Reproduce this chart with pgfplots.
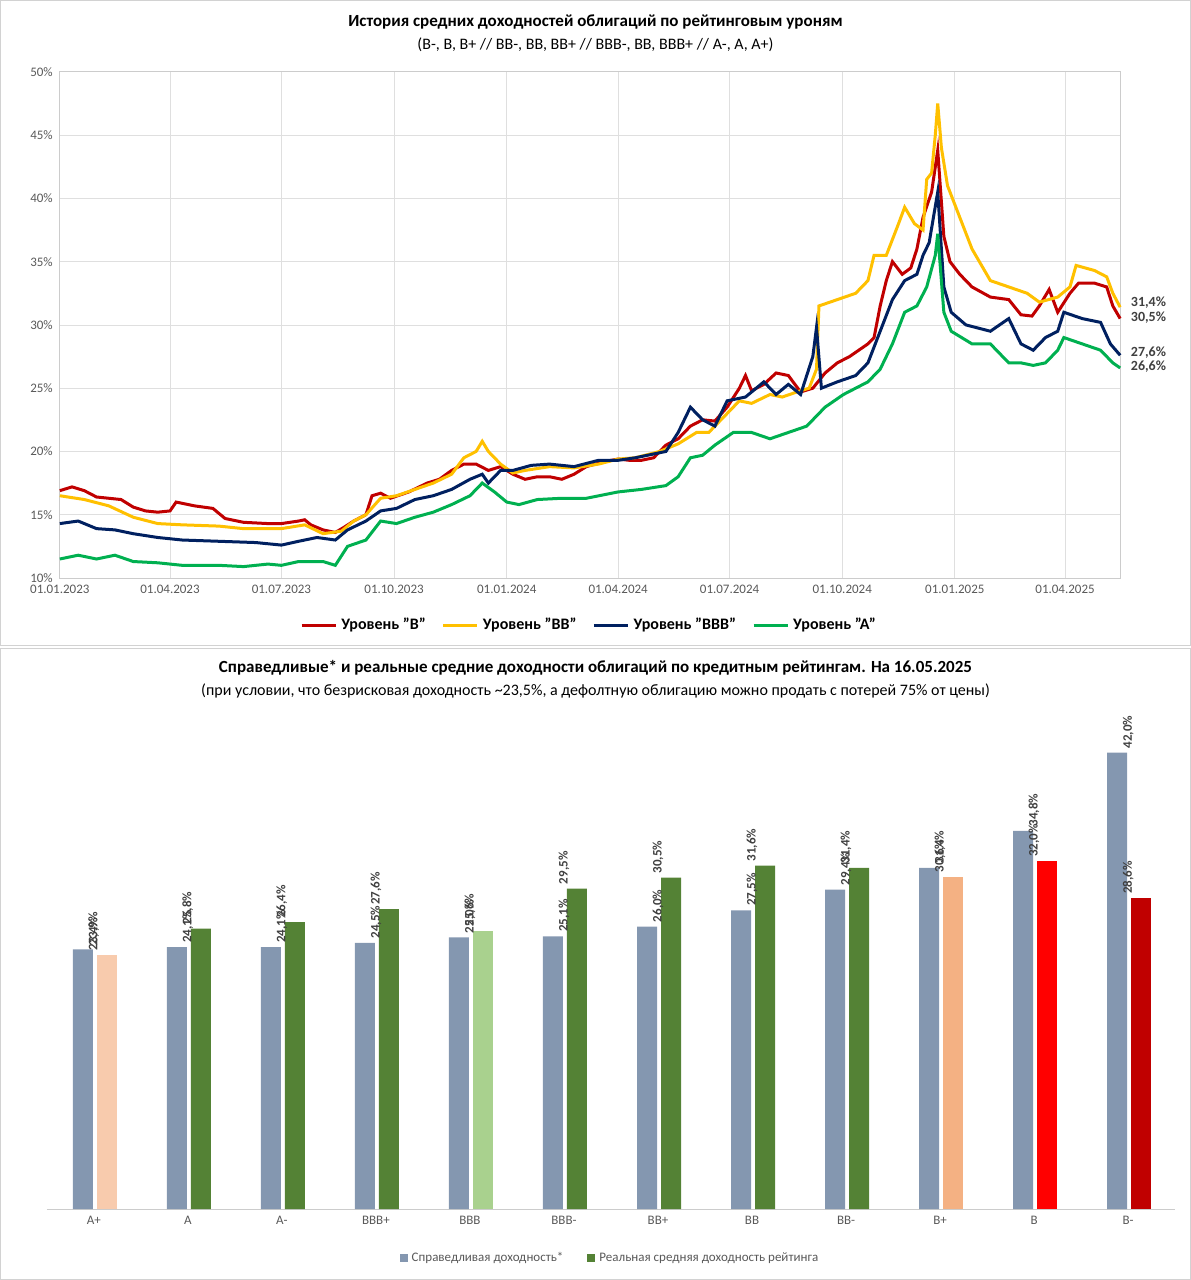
\documentclass[border=0pt]{standalone}
\usepackage{pgfplots}
\pgfplotsset{compat=1.18}
\usepackage{fontspec}
\setmainfont{Carlito}
\definecolor{cB}{HTML}{C00000}
\definecolor{cBB}{HTML}{FFC000}
\definecolor{cBBB}{HTML}{002060}
\definecolor{cA}{HTML}{00B050}
\definecolor{gb}{HTML}{8497B0}
\definecolor{gg}{HTML}{548235}
\definecolor{lg}{HTML}{A9D18E}
\definecolor{pe}{HTML}{F8CBAD}
\definecolor{or}{HTML}{F4B183}
\definecolor{rr}{HTML}{FF0000}
\definecolor{txt}{HTML}{595959}
\definecolor{lbl}{HTML}{404040}
\begin{document}
\begin{tikzpicture}
\draw[gray!35] (0.3pt,-0.3pt) rectangle (595.2pt,-322.5pt);
\draw[gray!35] (0.3pt,-324pt) rectangle (595.2pt,-639.7pt);
\node[font=\fontsize{8.5}{10}\selectfont\bfseries] at (297.75pt,-11pt) {История средних доходностей облигаций по рейтинговым уроням};
\node[font=\fontsize{8}{10}\selectfont] at (297.75pt,-22.5pt) {(B-, B, B+ // BB-, BB, BB+ // BBB-, BB, BBB+ // A-, A, A+)};
\node[font=\fontsize{8.5}{10}\selectfont\bfseries] at (297.75pt,-334pt) {Справедливые* и реальные средние доходности облигаций по кредитным рейтингам. На 16.05.2025};
\node[font=\fontsize{8}{10}\selectfont] at (297.75pt,-345.5pt) {(при условии, что безрисковая доходность \textasciitilde23,5\%, а дефолтную облигацию можно продать с потерей 75\% от цены)};
\begin{axis}[at={(30pt,-289pt)},anchor=south west,scale only axis,width=530pt,height=253pt,
 xmin=0,xmax=866,ymin=10,ymax=50,
 xtick={0,90,181,273,365,456,547,639,731,821},
 xticklabels={01.01.2023,01.04.2023,01.07.2023,01.10.2023,01.01.2024,01.04.2024,01.07.2024,01.10.2024,01.01.2025,01.04.2025},
 ytick={10,15,...,50},yticklabel={\pgfmathprintnumber{\tick}\%},
 /pgf/number format/assume math mode=true,
 grid=major,grid style={gray!25},axis line style={gray!40},tick style={draw=none},
 ticklabel style={font=\fontsize{6.5}{8}\selectfont,text=txt},
 clip=false,
 legend style={at={(0.5,-0.093)},anchor=center,draw=none,legend columns=4,font=\fontsize{8}{10}\selectfont\bfseries,/tikz/every even column/.append style={column sep=6pt}},
 every axis plot/.append style={line width=1.5pt}]
\addplot[cB] coordinates {(0,16.9)(10,17.2)(20,16.9)(30,16.4)(40,16.3)(50,16.2)(60,15.6)(70,15.3)(80,15.2)(90,15.3)(95,16.0)(110,15.7)(125,15.5)(135,14.7)(150,14.4)(170,14.3)(181,14.3)(195,14.5)(200,14.6)(205,14.2)(215,13.8)(225,13.6)(232,14.0)(240,14.5)(250,15.0)(255,16.5)(262,16.7)(270,16.3)(285,16.8)(300,17.5)(310,17.8)(320,18.5)(330,19.0)(340,19.0)(350,18.5)(360,18.8)(370,18.2)(380,17.8)(390,18.0)(400,18.0)(410,17.8)(420,18.2)(430,18.8)(445,19.2)(456,19.4)(465,19.3)(475,19.3)(485,19.5)(495,20.5)(505,21.0)(515,22.0)(525,22.5)(535,22.4)(545,23.5)(555,25.0)(560,26.0)(565,24.8)(575,25.3)(585,26.2)(595,26.0)(605,24.7)(615,25.0)(625,26.2)(635,27.0)(645,27.5)(660,28.5)(665,29.0)(670,31.5)(675,33.5)(680,35.0)(688,34.0)(695,34.5)(700,36.0)(705,38.5)(712,40.5)(717,43.8)(722,37.0)(727,35.0)(735,34.0)(745,33.0)(760,32.2)(775,32.0)(785,30.8)(794,30.7)(800,31.5)(808,32.8)(815,31.0)(825,32.5)(832,33.3)(845,33.3)(855,33.0)(860,31.5)(866,30.5)};
\addlegendentry{Уровень "B"}
\addplot[cBB] coordinates {(0,16.5)(20,16.2)(40,15.7)(60,14.8)(80,14.3)(100,14.2)(130,14.1)(150,13.9)(181,13.9)(200,14.2)(215,13.5)(230,13.7)(240,14.5)(250,15.0)(262,16.3)(275,16.5)(290,17.0)(305,17.5)(320,18.2)(330,19.5)(340,20.0)(345,20.8)(350,20.0)(360,19.0)(370,18.3)(380,18.5)(400,18.8)(420,18.7)(440,19.0)(456,19.4)(470,19.5)(490,20.0)(505,20.6)(520,21.5)(530,21.5)(545,23.0)(555,24.0)(565,23.8)(580,24.5)(590,24.3)(605,24.8)(612,25.0)(618,26.5)(620,31.5)(635,32.0)(650,32.5)(660,33.5)(665,35.5)(675,35.5)(685,38.0)(690,39.3)(698,38.0)(705,37.5)(708,41.5)(712,42.0)(715,45.0)(717,47.5)(720,44.0)(725,41.0)(735,38.5)(745,36.0)(760,33.5)(775,33.0)(790,32.5)(800,31.8)(815,32.2)(825,33.0)(830,34.7)(845,34.3)(855,33.8)(860,32.5)(866,31.4)};
\addlegendentry{Уровень "BB"}
\addplot[cBBB] coordinates {(0,14.3)(15,14.5)(30,13.9)(45,13.8)(60,13.5)(80,13.2)(100,13.0)(130,12.9)(160,12.8)(181,12.6)(195,12.9)(210,13.2)(225,13.0)(235,13.8)(250,14.5)(262,15.3)(275,15.5)(290,16.2)(305,16.5)(320,17.0)(335,17.8)(345,18.2)(350,17.5)(360,18.5)(370,18.5)(385,18.9)(400,19.0)(420,18.8)(440,19.3)(456,19.3)(470,19.5)(485,19.8)(495,20.0)(505,21.5)(515,23.5)(525,22.5)(535,22.0)(545,24.0)(560,24.3)(575,25.5)(585,24.5)(595,25.3)(605,24.5)(615,27.5)(618,29.8)(622,25.0)(635,25.5)(650,26.0)(660,27.0)(670,29.5)(680,32.0)(690,33.5)(700,34.0)(705,35.5)(710,36.5)(717,40.5)(722,33.0)(728,31.0)(740,30.0)(760,29.5)(775,30.5)(785,28.5)(795,28.0)(805,29.0)(815,29.5)(820,31.0)(835,30.5)(850,30.2)(858,28.5)(866,27.6)};
\addlegendentry{Уровень "BBB"}
\addplot[cA] coordinates {(0,11.5)(15,11.8)(30,11.5)(45,11.8)(60,11.3)(80,11.2)(100,11.0)(130,11.0)(150,10.9)(170,11.1)(181,11.0)(195,11.3)(215,11.3)(225,11.0)(235,12.5)(250,13.0)(262,14.5)(275,14.3)(290,14.8)(305,15.2)(320,15.8)(335,16.5)(345,17.5)(355,16.8)(365,16.0)(375,15.8)(390,16.2)(410,16.3)(430,16.3)(456,16.8)(475,17.0)(495,17.3)(505,18.0)(515,19.5)(525,19.7)(535,20.5)(550,21.5)(565,21.5)(580,21.0)(595,21.5)(610,22.0)(625,23.5)(640,24.5)(660,25.5)(670,26.5)(680,28.5)(690,31.0)(700,31.5)(708,33.0)(715,35.5)(717,37.2)(722,31.0)(728,29.5)(745,28.5)(760,28.5)(775,27.0)(785,27.0)(795,26.8)(805,27.0)(815,28.0)(820,29.0)(835,28.5)(850,28.0)(860,27.0)(866,26.6)};
\addlegendentry{Уровень "A"}
\node[font=\fontsize{7}{8}\selectfont\bfseries,text=lbl,anchor=west] at (axis cs:869,31.8) {31,4\%};
\node[font=\fontsize{7}{8}\selectfont\bfseries,text=lbl,anchor=west] at (axis cs:869,30.6) {30,5\%};
\node[font=\fontsize{7}{8}\selectfont\bfseries,text=lbl,anchor=west] at (axis cs:869,27.8) {27,6\%};
\node[font=\fontsize{7}{8}\selectfont\bfseries,text=lbl,anchor=west] at (axis cs:869,26.7) {26,6\%};
\end{axis}
\begin{axis}[at={(23.5pt,-604.5pt)},anchor=south west,scale only axis,width=564pt,height=244.5pt,
 xmin=-0.5,xmax=11.5,ymin=0,ymax=45,
 xtick={0,...,11},xticklabels={A+,A,A-,BBB+,BBB,BBB-,BB+,BB,BB-,B+,B,B-},
 ytick={0,5,...,45},yticklabel={\pgfmathprintnumber{\tick}\%},
 /pgf/number format/assume math mode=true,
 ymajorgrids,grid style={gray!25},axis x line*=bottom,axis y line=none,
 x axis line style={gray!40},tick style={draw=none},
 ticklabel style={font=\fontsize{6.5}{8}\selectfont,text=txt},
 clip=false,
 legend style={at={(0.5,-0.1)},anchor=center,draw=none,legend columns=2,font=\fontsize{6.5}{8}\selectfont,text=txt,/tikz/every even column/.append style={column sep=10pt}},
 legend image code/.code={\fill[#1] (0cm,-0.07cm) rectangle (0.14cm,0.07cm);},
 every axis plot/.append style={ybar,bar width=10pt,draw=none,
  nodes near coords={\pgfmathprintnumber[fixed,fixed zerofill,precision=1,use comma]{\pgfplotspointmeta}\%},
  nodes near coords style={rotate=90,anchor=west,font=\fontsize{6.5}{8}\selectfont\bfseries,text=lbl,inner sep=2pt}}]
\addplot[fill=gb,bar shift=-5.5pt] coordinates {(0,23.9)(1,24.1)(2,24.1)(3,24.5)(4,25.0)(5,25.1)(6,26.0)(7,27.5)(8,29.4)(9,31.4)(10,34.8)(11,42.0)};
\addlegendentry{Справедливая доходность*}
\addplot[fill=gg,bar shift=6.5pt] coordinates {(1,25.8)(2,26.4)(3,27.6)(5,29.5)(6,30.5)(7,31.6)(8,31.4)};
\addlegendentry{Реальная средняя доходность рейтинга}
\addplot[fill=pe,bar shift=6.5pt,forget plot] coordinates {(0,23.4)};
\addplot[fill=lg,bar shift=6.5pt,forget plot] coordinates {(4,25.6)};
\addplot[fill=or,bar shift=6.5pt,forget plot] coordinates {(9,30.6)};
\addplot[fill=rr,bar shift=6.5pt,forget plot] coordinates {(10,32.0)};
\addplot[fill=cB,bar shift=6.5pt,forget plot] coordinates {(11,28.6)};
\end{axis}
\end{tikzpicture}
\end{document}
